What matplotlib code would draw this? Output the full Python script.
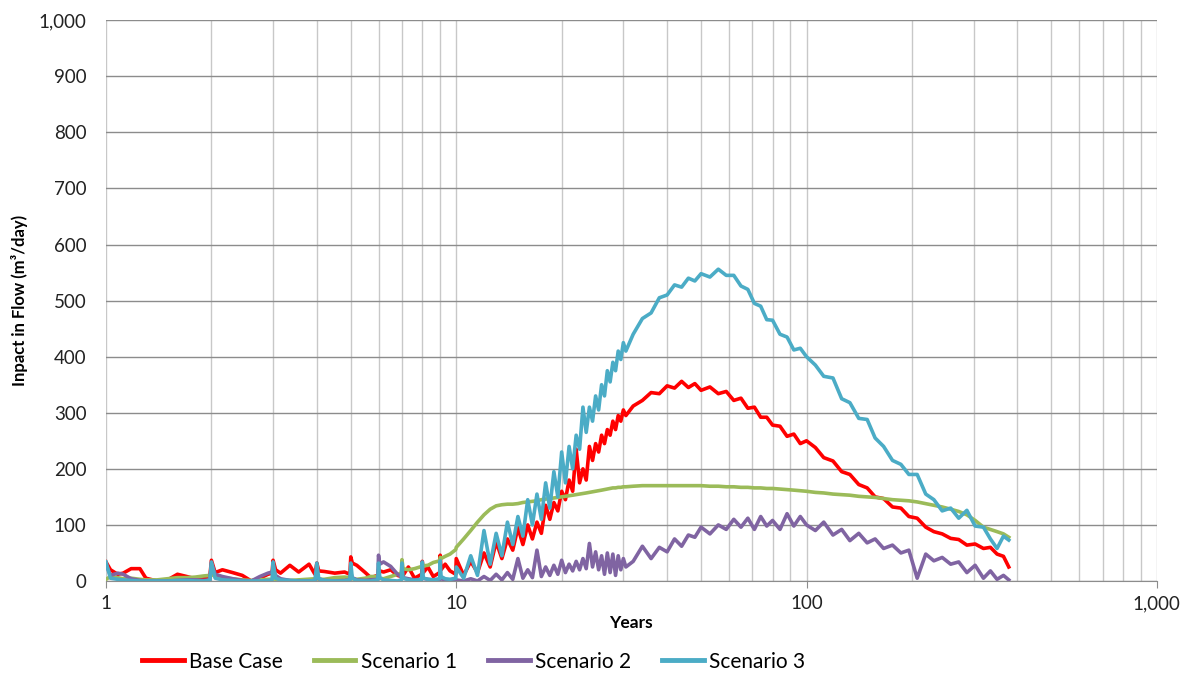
import matplotlib
matplotlib.use("Agg")
from matplotlib import pyplot as plt
from matplotlib.ticker import FuncFormatter, LogLocator, NullFormatter, MultipleLocator

plt.rcParams['font.family'] = ['Lato', 'DejaVu Sans']

# years (shared by all four series)
years = [
    1.0, 1.03, 1.08, 1.12, 1.18, 1.25, 1.3, 1.4, 1.5, 1.6, 1.7, 1.8, 1.9, 1.98,
    2.0, 2.05, 2.15, 2.3, 2.45, 2.6, 2.75, 2.9, 2.98,
    3.0, 3.05, 3.15, 3.35, 3.55, 3.8, 3.95,
    4.0, 4.05, 4.2, 4.5, 4.8, 4.97,
    5.0, 5.05, 5.2, 5.5, 5.7, 5.97,
    6.0, 6.05, 6.2, 6.5, 6.8, 6.97,
    7.0, 7.05, 7.3, 7.6, 7.97,
    8.0, 8.05, 8.3, 8.6, 8.97,
    9.0, 9.05, 9.3, 9.6, 9.97,
    10, 10.5, 11, 11.5, 12, 12.5, 13, 13.5, 14, 14.5, 15, 15.5, 16, 16.5,
    17, 17.5, 18, 18.5, 19, 19.5, 20, 20.5, 21, 21.5, 22, 22.5, 23, 23.5,
    24, 24.5, 25, 25.5, 26, 26.5, 27, 27.5, 28, 28.5, 29, 29.5, 30, 30.5,
    32, 34, 36, 38, 40, 42, 44, 46, 48, 50, 53, 56, 59, 62, 65, 68, 71, 74,
    77, 80, 84, 88, 92, 96, 100,
    106, 112, 119, 126, 133, 141, 149, 157, 166, 176, 186, 196, 207, 219,
    231, 244, 258, 272, 287, 303, 320, 335, 350, 365, 378,
]

base_case = [
    34, 20, 12, 14, 22, 22, 5, 0, 2, 12, 8, 4, 6, 8,
    37, 15, 20, 15, 10, 0, 5, 12, 14,
    37, 20, 14, 28, 16, 30, 12,
    32, 18, 17, 14, 16, 12,
    43, 32, 28, 15, 6, 10,
    20, 18, 16, 20, 10, 8,
    25, 10, 25, 5, 12,
    35, 15, 25, 8, 15,
    46, 20, 30, 18, 12,
    40, 10, 35, 15, 50, 25, 70, 40, 75, 55, 95, 65, 100, 75,
    105, 85, 135, 110, 140, 125, 160, 145, 180, 160, 235, 175, 200, 180,
    240, 215, 245, 230, 260, 245, 270, 260, 285, 270, 295, 285, 305, 295,
    312, 322, 336, 334, 348, 344, 356, 345, 352, 340, 346, 334, 338, 322,
    326, 308, 310, 292, 292, 278, 276, 258, 262, 245, 250,
    238, 220, 214, 195, 190, 172, 166, 150, 147, 132, 130, 115, 112, 96,
    88, 84, 76, 74, 64, 66, 58, 60, 48, 44, 25,
]

scenario_1 = [
    3, 8, 6, 4, 5, 3, 2, 2, 4, 6, 6, 7, 9, 10,
    12, 8, 6, 4, 2, 1, 2, 3, 3,
    4, 3, 2, 1, 2, 3, 4,
    5, 3, 3, 6, 7, 6,
    5, 4, 3, 5, 8, 8,
    6, 5, 4, 8, 12, 14,
    38, 22, 20, 22, 26,
    32, 27, 28, 33, 36,
    42, 40, 44, 48, 56,
    60, 75, 90, 105, 118, 128, 134, 136, 137, 137, 138, 140, 141, 142,
    143, 145, 146, 147, 148, 149, 150, 151, 152, 153, 154, 155, 156, 157,
    158, 159, 160, 161, 162, 163, 164, 165, 166, 166, 167, 167, 168, 168,
    169, 170, 170, 170, 170, 170, 170, 170, 170, 170, 169, 169, 168, 168,
    167, 167, 166, 166, 165, 165, 164, 163, 162, 161, 160,
    158, 157, 155, 154, 153, 151, 150, 149, 147, 145, 144, 143, 141, 138,
    135, 132, 128, 124, 118, 108, 96, 92, 88, 84, 78,
]

scenario_2 = [
    30, 10, 14, 12, 4, 1, 0, 0, 0, 1, 2, 2, 1, 2,
    32, 12, 8, 4, 1, 0, 8, 14, 16,
    22, 10, 4, 1, 0, 0, 1,
    10, 4, 1, 0, 1, 2,
    14, 6, 2, 1, 2, 3,
    46, 30, 34, 26, 12, 8,
    10, 6, 4, 2, 3,
    12, 5, 3, 2, 3,
    10, 4, 2, 1, 2,
    2, 0, 4, 0, 8, 1, 12, 2, 15, 3, 40, 5, 20, 6,
    55, 8, 25, 10, 28, 12, 37, 15, 30, 18, 35, 20, 40, 22,
    67, 25, 52, 20, 45, 12, 50, 15, 48, 10, 45, 20, 40, 25,
    35, 62, 40, 60, 52, 75, 62, 82, 78, 96, 84, 100, 92, 110,
    96, 112, 92, 115, 98, 108, 92, 120, 98, 115, 100,
    90, 105, 82, 92, 72, 85, 68, 75, 58, 64, 50, 55, 5, 48,
    36, 42, 30, 34, 15, 28, 5, 18, 3, 10, 2,
]

scenario_3 = [
    34, 5, 3, 2, 1, 0, 0, 0, 0, 1, 1, 0, 0, 1,
    34, 5, 2, 1, 0, 0, 0, 1, 2,
    34, 5, 2, 1, 0, 0, 1,
    32, 4, 1, 0, 0, 2,
    32, 5, 1, 0, 0, 2,
    32, 6, 2, 1, 0, 2,
    32, 5, 2, 1, 3,
    34, 5, 3, 2, 4,
    36, 8, 4, 3, 5,
    25, 5, 45, 10, 90, 30, 85, 45, 105, 65, 115, 80, 145, 100,
    155, 110, 175, 130, 195, 150, 230, 175, 240, 200, 260, 235, 310, 265,
    310, 285, 330, 305, 350, 330, 375, 355, 390, 375, 410, 395, 425, 410,
    440, 468, 478, 505, 510, 528, 524, 540, 535, 548, 542, 556, 545, 545,
    526, 520, 495, 490, 466, 465, 440, 435, 412, 415, 400,
    385, 365, 362, 325, 318, 290, 288, 255, 240, 215, 208, 190, 190, 155,
    145, 125, 130, 112, 126, 98, 96, 75, 58, 80, 73,
]

labels = ["Base Case", "Scenario 1", "Scenario 2", "Scenario 3"]
colors = ["#FF0000", "#9BBB59", "#8064A2", "#4BACC6"]

fig = plt.figure(figsize=(11.84, 6.73), dpi=100)
ax = fig.add_axes([0.0895, 0.1367, 0.8875, 0.8333])

for series, label, color in zip([base_case, scenario_1, scenario_2, scenario_3], labels, colors):
    ax.plot(years, series, color=color, linewidth=2.6, label=label, solid_joinstyle="round")

ax.set_xscale("log")
ax.set_xlim(1, 1000)
ax.set_ylim(0, 1000)

comma = FuncFormatter(lambda v, pos: f"{v:,.0f}")
ax.xaxis.set_major_locator(LogLocator(base=10))
ax.xaxis.set_minor_locator(LogLocator(base=10, subs=range(2, 10)))
ax.xaxis.set_major_formatter(comma)
ax.xaxis.set_minor_formatter(NullFormatter())
ax.yaxis.set_major_locator(MultipleLocator(100))
ax.yaxis.set_major_formatter(comma)

ax.grid(True, axis="y", which="major", color="#8c8c8c", linewidth=1.0)
ax.grid(True, axis="x", which="both", color="#c8c8c8", linewidth=1.0)
ax.set_axisbelow(True)

for side in ["top", "right", "left"]:
    ax.spines[side].set_visible(False)
ax.spines["bottom"].set_color("#8c8c8c")
ax.tick_params(axis="y", length=0, labelsize=13.5, colors="#222222", pad=14)
ax.tick_params(axis="x", which="major", length=5, color="#8c8c8c", labelsize=13.5, labelcolor="#222222", pad=5)
ax.tick_params(axis="x", which="minor", length=0)

ax.set_xlabel("Years", fontsize=12.5, fontweight="bold", labelpad=2)
ax.set_ylabel("Inpact in Flow (m³/day)", fontsize=12, fontweight="bold", labelpad=8)

fig.legend(loc="center", bbox_to_anchor=(0.40, 0.017), ncol=4, frameon=False,
           fontsize=15, handlelength=2.0, columnspacing=1.5, handletextpad=0.25)
for line in fig.legends[0].get_lines():
    line.set_linewidth(3.5)

fig.savefig("out.png", dpi=100)
